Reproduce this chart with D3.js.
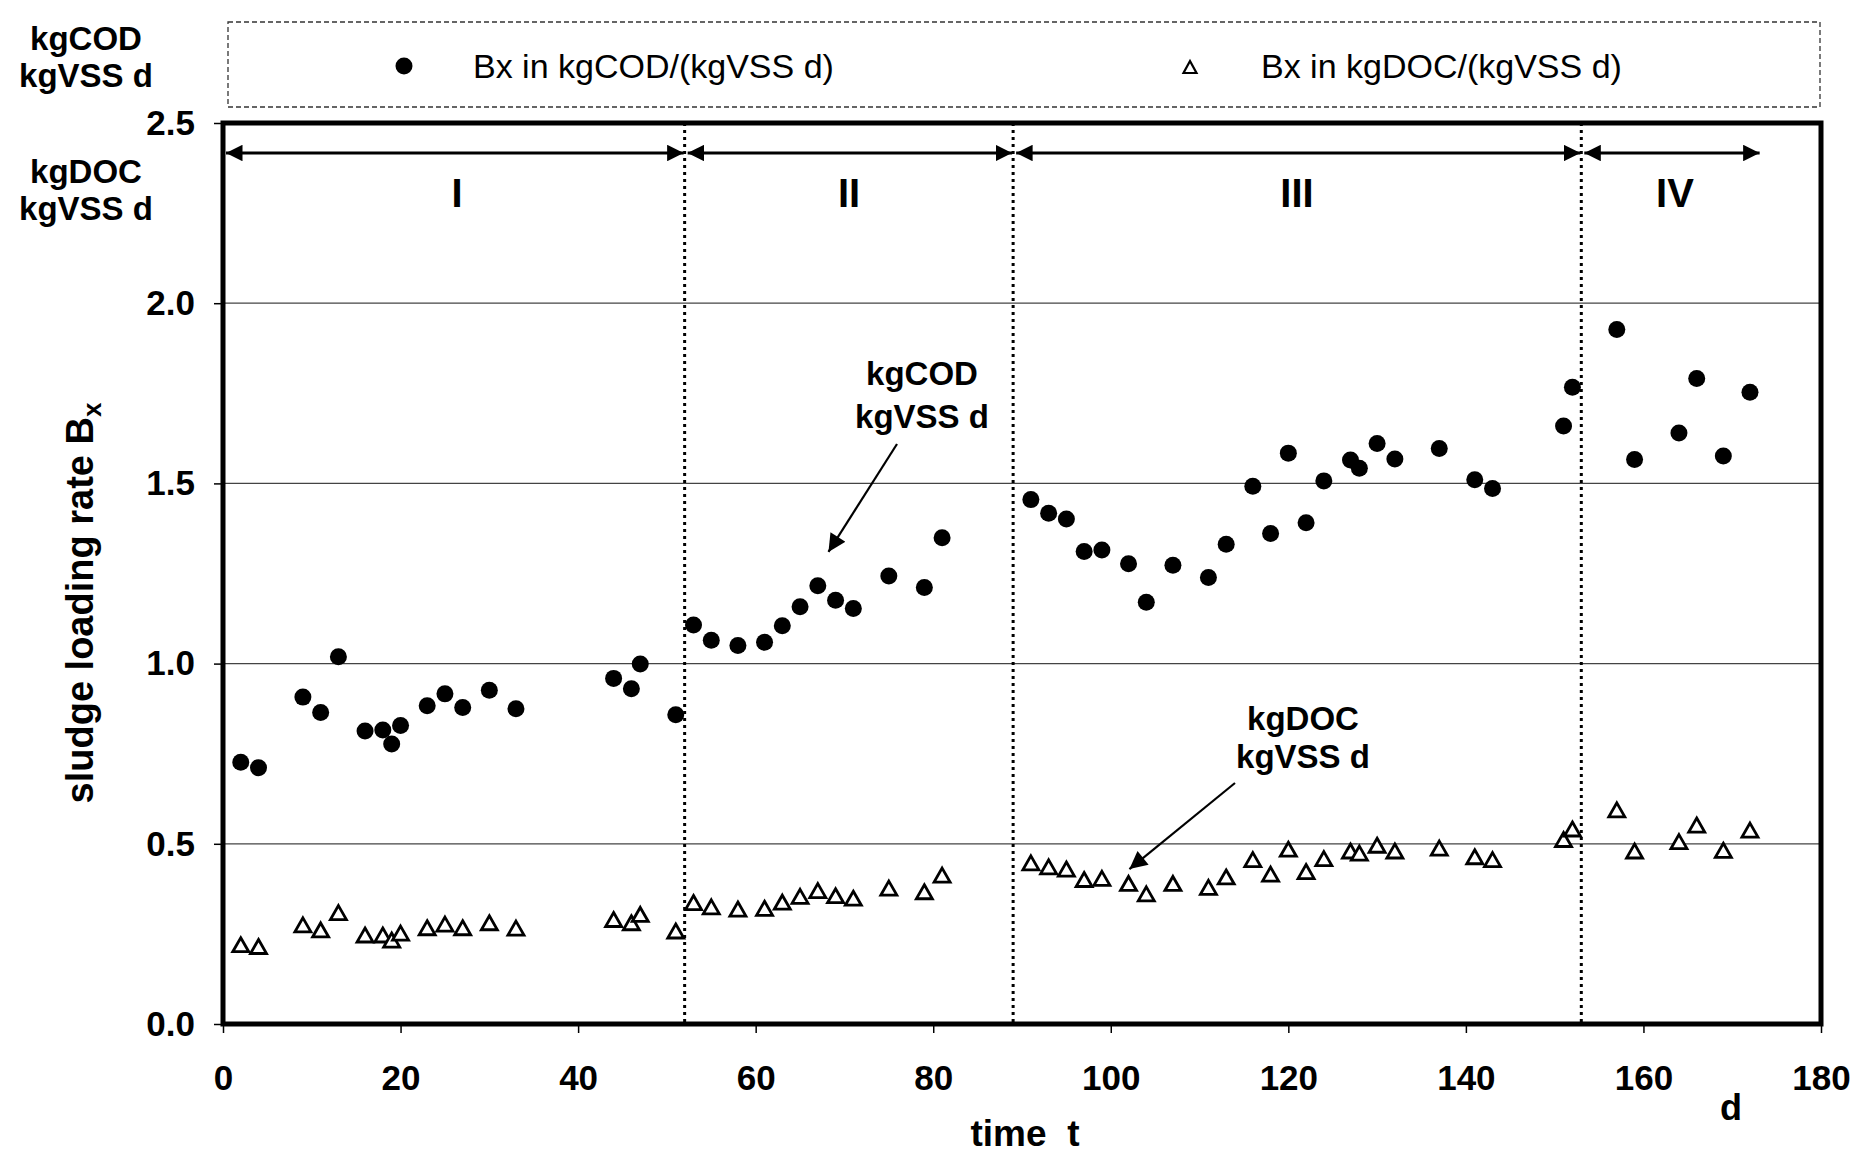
<!DOCTYPE html>
<html>
<head>
<meta charset="utf-8">
<script src="https://cdn.jsdelivr.net/npm/d3@7"></script>
<style>
  body { margin: 0; background: #fff; }
  svg { display: block; font-family: "Liberation Sans", Arial, sans-serif; }
</style>
</head>
<body>
<div id="chart"></div>
<script>
// sampling days (same for both series)
const days = [2, 4, 9, 11, 13, 16, 18, 19, 20, 23, 25, 27, 30, 33, 44, 46, 47, 51,
  53, 55, 58, 61, 63, 65, 67, 69, 71, 75, 79, 81,
  91, 93, 95, 97, 99, 102, 104, 107, 111, 113, 116, 118, 120, 122, 124, 127, 128, 130, 132, 137, 141, 143, 151, 152,
  157, 159, 164, 166, 169, 172];

// Bx in kgCOD/(kgVSS d)
const bxCOD = [0.726, 0.711, 0.907, 0.864, 1.019, 0.813, 0.816, 0.777, 0.828, 0.883, 0.916, 0.878, 0.926, 0.875, 0.959, 0.930, 0.999, 0.858,
  1.107, 1.065, 1.050, 1.059, 1.105, 1.158, 1.216, 1.176, 1.153, 1.243, 1.211, 1.349,
  1.455, 1.417, 1.401, 1.311, 1.315, 1.277, 1.170, 1.273, 1.239, 1.331, 1.492, 1.361, 1.584, 1.391, 1.507, 1.565, 1.542, 1.611, 1.568, 1.597, 1.510, 1.486, 1.659, 1.767,
  1.927, 1.566, 1.640, 1.791, 1.576, 1.753];

// Bx in kgDOC/(kgVSS d)
const bxDOC = [0.220, 0.215, 0.275, 0.261, 0.309, 0.247, 0.247, 0.233, 0.252, 0.267, 0.277, 0.267, 0.281, 0.266, 0.290, 0.281, 0.304, 0.258,
  0.337, 0.325, 0.319, 0.321, 0.338, 0.354, 0.370, 0.356, 0.349, 0.377, 0.367, 0.413,
  0.447, 0.436, 0.430, 0.401, 0.404, 0.390, 0.361, 0.390, 0.379, 0.408, 0.456, 0.416, 0.485, 0.423, 0.459, 0.480, 0.474, 0.496, 0.480, 0.488, 0.464, 0.456, 0.512, 0.541,
  0.594, 0.480, 0.506, 0.552, 0.482, 0.538];

// operating phases (start/end day)
const phaseNames = ["I", "II", "III", "IV"];
const phaseBounds = [0, 52, 89, 153, 173.2];

const xTicks = [0, 20, 40, 60, 80, 100, 120, 140, 160, 180];
const yTicks = [0.0, 0.5, 1.0, 1.5, 2.0, 2.5];
const gridLevels = [0.5, 1.0, 1.5, 2.0];

const width = 1857;
const height = 1156;

const x = d3.scaleLinear().domain([0, 180]).range([223, 1821]);
const y = d3.scaleLinear().domain([0, 2.5]).range([1024, 123]);

const svg = d3.select("#chart").append("svg")
    .attr("width", width)
    .attr("height", height);

const defs = svg.append("defs");
defs.append("marker")
    .attr("id", "head")
    .attr("viewBox", "0 0 10 10")
    .attr("refX", 10).attr("refY", 5)
    .attr("markerWidth", 5.5).attr("markerHeight", 5.5)
    .attr("markerUnits", "strokeWidth")
    .attr("orient", "auto-start-reverse")
  .append("path")
    .attr("d", "M0,0 L10,5 L0,10 Z")
    .attr("fill", "#000");
defs.append("marker")
    .attr("id", "pointer")
    .attr("viewBox", "0 0 10 10")
    .attr("refX", 10).attr("refY", 5)
    .attr("markerWidth", 9).attr("markerHeight", 8)
    .attr("markerUnits", "strokeWidth")
    .attr("orient", "auto")
  .append("path")
    .attr("d", "M0,0 L10,5 L0,10 Z")
    .attr("fill", "#000");

// legend box
const legend = svg.append("g");
legend.append("rect")
    .attr("x", 228).attr("y", 22)
    .attr("width", 1592).attr("height", 85)
    .attr("fill", "none")
    .attr("stroke", "#333")
    .attr("stroke-width", 1.3)
    .attr("stroke-dasharray", "5 3");
legend.append("circle")
    .attr("cx", 404).attr("cy", 66).attr("r", 8.5)
    .attr("fill", "#000");
legend.append("text")
    .attr("x", 473).attr("y", 78)
    .attr("font-size", 34)
    .text("Bx in kgCOD/(kgVSS d)");
legend.append("path")
    .attr("transform", "translate(1190,67)")
    .attr("d", "M0,-6 L6.5,6 L-6.5,6 Z")
    .attr("fill", "#fff").attr("stroke", "#000").attr("stroke-width", 2.2);
legend.append("text")
    .attr("x", 1261).attr("y", 78)
    .attr("font-size", 34)
    .text("Bx in kgDOC/(kgVSS d)");

// unit labels on the left
const units = svg.append("g")
    .attr("font-size", 33).attr("font-weight", "bold")
    .attr("text-anchor", "middle");
[["kgCOD", 50], ["kgVSS d", 87], ["kgDOC", 183], ["kgVSS d", 220]].forEach(([t, yy]) => {
  units.append("text").attr("x", 86).attr("y", yy).text(t);
});

// grid lines
svg.append("g").selectAll("line")
    .data(gridLevels)
    .enter().append("line")
    .attr("x1", x(0)).attr("x2", x(180))
    .attr("y1", d => y(d)).attr("y2", d => y(d))
    .attr("stroke", "#444")
    .attr("stroke-width", 1.2);

// axes
const xAxis = svg.append("g")
    .attr("transform", `translate(0,${y(0)})`)
    .call(d3.axisBottom(x).tickValues(xTicks).tickSize(9).tickPadding(32).tickFormat(d3.format("d")));
xAxis.select(".domain").remove();
xAxis.selectAll("line").attr("stroke", "#000").attr("stroke-width", 1.5);
xAxis.selectAll("text")
    .attr("font-size", 35).attr("font-weight", "bold")
    .attr("font-family", "Liberation Sans, Arial, sans-serif")
    .attr("fill", "#000");

const yAxis = svg.append("g")
    .attr("transform", `translate(${x(0)},0)`)
    .call(d3.axisLeft(y).tickValues(yTicks).tickSize(9).tickPadding(19).tickFormat(d3.format(".1f")));
yAxis.select(".domain").remove();
yAxis.selectAll("line").attr("stroke", "#000").attr("stroke-width", 1.5);
yAxis.selectAll("text")
    .attr("font-size", 35).attr("font-weight", "bold")
    .attr("font-family", "Liberation Sans, Arial, sans-serif")
    .attr("fill", "#000");

// phase boundaries
svg.append("g").selectAll("line")
    .data(phaseBounds.slice(1, 4))
    .enter().append("line")
    .attr("x1", d => x(d)).attr("x2", d => x(d))
    .attr("y1", y(2.5)).attr("y2", y(0))
    .attr("stroke", "#000")
    .attr("stroke-width", 3)
    .attr("stroke-dasharray", "3 4");

// phase arrows and names
const phases = svg.append("g");
phaseNames.forEach((name, i) => {
  const a = phaseBounds[i], b = phaseBounds[i + 1];
  phases.append("line")
      .attr("x1", x(a) + 3).attr("x2", x(b) - 1)
      .attr("y1", 153).attr("y2", 153)
      .attr("stroke", "#000").attr("stroke-width", 3)
      .attr("marker-start", "url(#head)")
      .attr("marker-end", "url(#head)");
});
phases.selectAll("text")
    .data(phaseNames)
    .enter().append("text")
    .attr("x", (d, i) => [457, 849, 1297, 1675][i])
    .attr("y", 207)
    .attr("text-anchor", "middle")
    .attr("font-size", 40).attr("font-weight", "bold")
    .text(d => d);

// data points
const pts = days.map((d, i) => ({ day: d, cod: bxCOD[i], doc: bxDOC[i] }));

svg.append("g").selectAll("circle")
    .data(pts)
    .enter().append("circle")
    .attr("cx", d => x(d.day))
    .attr("cy", d => y(d.cod))
    .attr("r", 8.5)
    .attr("fill", "#000");

svg.append("g").selectAll("path")
    .data(pts)
    .enter().append("path")
    .attr("transform", d => `translate(${x(d.day)},${y(d.doc)})`)
    .attr("d", "M0,-7 L8,7 L-8,7 Z")
    .attr("fill", "#fff")
    .attr("stroke", "#000")
    .attr("stroke-width", 2.8);

// annotations
const ann = svg.append("g")
    .attr("font-size", 33).attr("font-weight", "bold")
    .attr("text-anchor", "middle");
ann.append("text").attr("x", 922).attr("y", 385).text("kgCOD");
ann.append("text").attr("x", 922).attr("y", 428).text("kgVSS d");
ann.append("line")
    .attr("x1", 897).attr("y1", 444).attr("x2", x(68.2)).attr("y2", y(1.31))
    .attr("stroke", "#000").attr("stroke-width", 2.2)
    .attr("marker-end", "url(#pointer)");
ann.append("text").attr("x", 1303).attr("y", 730).text("kgDOC");
ann.append("text").attr("x", 1303).attr("y", 768).text("kgVSS d");
ann.append("line")
    .attr("x1", 1235).attr("y1", 783).attr("x2", x(102.1)).attr("y2", y(0.43))
    .attr("stroke", "#000").attr("stroke-width", 2.2)
    .attr("marker-end", "url(#pointer)");

// frame
svg.append("rect")
    .attr("x", x(0)).attr("y", y(2.5))
    .attr("width", x(180) - x(0))
    .attr("height", y(0) - y(2.5))
    .attr("fill", "none")
    .attr("stroke", "#000")
    .attr("stroke-width", 5);

// axis titles
svg.append("text")
    .attr("transform", "translate(93,603) rotate(-90)")
    .attr("text-anchor", "middle")
    .attr("font-size", 38).attr("font-weight", "bold")
    .text("sludge loading rate B")
  .append("tspan")
    .attr("font-size", 26)
    .attr("dy", 8)
    .text("x");

svg.append("text")
    .attr("x", 1025).attr("y", 1146)
    .attr("text-anchor", "middle")
    .attr("font-size", 37).attr("font-weight", "bold")
    .attr("xml:space", "preserve")
    .style("white-space", "pre")
    .text("time  t");

svg.append("text")
    .attr("x", 1731).attr("y", 1120)
    .attr("text-anchor", "middle")
    .attr("font-size", 36).attr("font-weight", "bold")
    .text("d");
</script>
</body>
</html>
